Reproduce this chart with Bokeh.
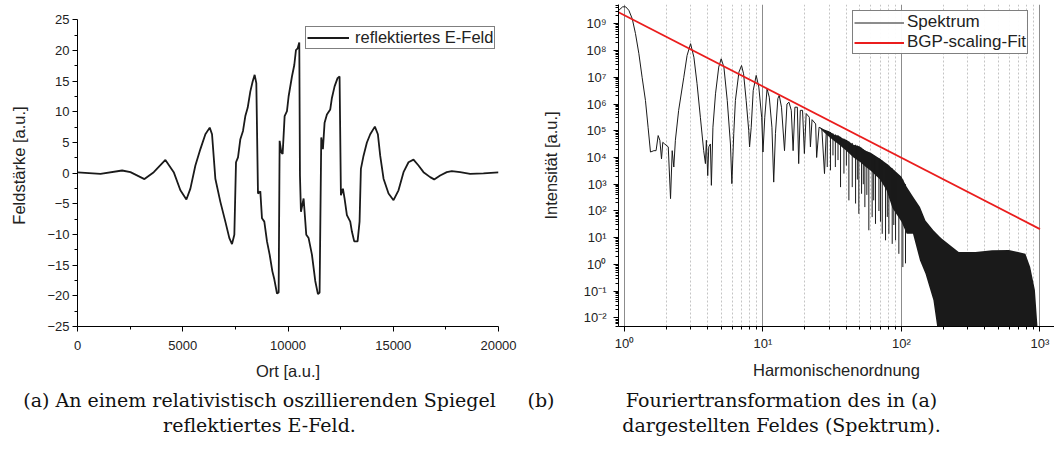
from bokeh.plotting import figure
from bokeh.models import (Legend, LegendItem, FixedTicker,
                          CustomJSTickFormatter, Range1d)
from bokeh.layouts import row, column
from bokeh.embed import file_html
from bokeh.resources import INLINE
from bokeh.core.properties import value

# ---------------- data: (a) reflected field ----------------
ort = [0, 1092, 2120, 2515, 3180, 3623, 4176, 4572, 4888, 5173, 5363, 5600, 5838,
       6075, 6281, 6391, 6549, 6787, 7024, 7214, 7340, 7451, 7530, 7625, 7736, 7862,
       7973, 8084, 8211, 8321, 8416, 8495, 8574, 8685, 8764, 8875, 9002, 9128, 9255,
       9350, 9477, 9556, 9603, 9682, 9745, 9840, 9951, 10030, 10188, 10299, 10378,
       10457, 10536, 10568, 10615, 10742, 10868, 10979, 11137, 11295, 11422, 11501,
       11580, 11659, 11738, 11849, 12007, 12086, 12213, 12355, 12450, 12514, 12609,
       12688, 12798, 12957, 13036, 13146, 13305, 13400, 13463, 13589, 13748, 13906,
       14127, 14270, 14380, 14539, 14776, 15013, 15250, 15488, 15725, 15962, 16200,
       16437, 16753, 16943, 17228, 17544, 17782, 18177, 18652, 19285, 20000]
feld = [0.11, -0.11, 0.43, 0.16, -0.97, 0.16, 2.15, 0.16, -2.80, -4.30, -2.53, 1.24,
        3.92, 6.34, 7.42, 6.34, -0.91, -4.68, -7.90, -10.59, -11.56, -10.05, 1.77,
        2.58, 5.54, 6.88, 9.30, 10.65, 13.33, 14.95, 16.02, 14.68, -3.33, -2.96,
        -7.37, -7.90, -11.13, -13.28, -15.97, -17.31, -19.62, -19.46, 5.27, 3.39,
        3.12, 9.30, 10.11, 12.53, 15.75, 17.63, 20.05, 20.32, 21.29, -0.38, -6.29,
        -4.14, -10.05, -10.59, -13.28, -17.58, -19.73, -19.46, 5.81, 3.92, 8.23,
        9.57, 10.38, 12.26, 14.14, 15.48, 15.75, -3.60, -2.53, -4.14, -6.83, -7.90,
        -9.52, -11.13, -11.13, -7.90, 0.70, 2.85, 5.00, 6.34, 7.58, 6.34, 2.85,
        -0.91, -3.33, -4.41, -2.80, 0.16, 1.77, 2.20, 1.24, 0.16, -0.65, -1.02,
        -0.38, 0.16, 0.32, 0.16, -0.11, -0.05, 0.11]

# ---------------- data: (b) spectrum ----------------
harm = [0.91, 0.97, 1.02, 1.074, 1.137, 1.20, 1.27, 1.34, 1.417, 1.48, 1.54, 1.63,
        1.69, 1.75, 1.80, 1.85, 1.89, 1.95, 2.07, 2.15, 2.21, 2.27, 2.33, 2.46,
        2.68, 2.83, 3.0, 3.17, 3.34, 3.53, 3.73, 3.84, 3.90, 3.99, 4.06, 4.17, 4.24,
        4.35, 4.54, 4.79, 4.99, 5.22, 5.52, 5.82, 5.96, 6.15, 6.32, 6.70, 7.0, 7.24,
        7.56, 7.89, 8.0, 8.22, 8.50, 8.93, 9.33, 9.78, 10.0, 10.3, 10.7, 11.1, 11.6,
        11.95, 12.3, 12.8, 13.1, 13.6, 14.3, 14.9, 15.4, 16.0, 16.5, 17.0, 17.7,
        18.1, 18.6, 19.3, 19.9, 20.5, 21.6, 22.0, 22.6, 24.0, 24.4, 25.4, 26.6,
        27.8, 28.6, 29.9]
inten = [3.2e9, 4.3e9, 4.3e9, 3.2e9, 1.55e9, 4.3e8, 7.6e7, 1.0e7, 1.35e6, 1.35e5,
         1.6e4, 1.8e4, 1.8e4, 6.6e4, 4.4e4, 8.9e3, 3.7e4, 3.2e4, 2.5e4, 2.9e2,
         1.8e4, 4.4e3, 4.4e4, 5.8e5, 1.0e7, 6.5e7, 1.8e8, 5.6e7, 5.8e6, 3.2e5,
         1.8e4, 5.9e3, 4.4e4, 2.1e3, 2.5e4, 3.2e4, 9.1e2, 1.35e5, 2.4e6, 2.4e7,
         4.9e7, 2.4e7, 1.35e6, 3.2e4, 1.05e3, 7.8e4, 1.35e6, 1.55e7, 2.75e7, 1.35e7,
         1.35e6, 1.0e5, 2.5e4, 1.35e5, 3.2e6, 1.17e7, 4.3e6, 3.2e5, 1.6e4, 3.2e5,
         3.7e6, 1.8e6, 1.35e5, 1.2e3, 7.8e4, 1.6e6, 2.1e6, 7.6e5, 1.8e4, 1.0e6,
         1.17e6, 5.8e5, 1.8e4, 7.6e5, 7.6e5, 5.9e3, 5.8e5, 5.8e5, 1.4e4, 4.4e5,
         3.2e5, 2.5e4, 2.6e5, 1.8e5, 1.0e4, 1.35e5, 1.2e5, 2.5e3, 7.8e4, 8.9e4]

# dense part of the spectrum: envelope of the solid black band
band_n = [26, 28, 30, 33, 35, 38, 40, 45, 50, 55, 60, 70, 78, 86, 100, 109, 121,
          136, 149, 170, 189, 196, 233, 259, 342, 451, 596, 785, 850, 919, 980]
band_hi = [1.3e5, 1.1e5, 9.5e4, 7.0e4, 6.6e4, 5.0e4, 4.6e4, 3.0e4, 2.6e4, 1.8e4,
           1.5e4, 9.0e3, 6.0e3, 3.9e3, 1.9e3, 8.0e2, 3.5e2, 1.4e2, 44, 19, 11, 9.1,
           4.5, 2.9, 2.9, 3.4, 3.5, 2.5, 0.8, 0.11, 1e-3]
band_lo = [1.2e5, 8.0e4, 6.0e4, 4.0e4, 3.2e4, 2.2e4, 1.8e4, 1.0e4, 7.0e3, 4.5e3,
           3.2e3, 1.5e3, 6.0e2, 1.3e2, 40, 14, 14, 1.4, 0.45, 0.046, 1e-3, 1e-3,
           1e-3, 1e-3, 1e-3, 1e-3, 1e-3, 1e-3, 1e-3, 1e-3, 1e-3]

# deep minima between the harmonics in the dense part
dip_n = [29.1, 30.7, 32.0, 33.3, 34.8, 36.3, 38.4, 40.0, 41.7, 44.1, 46.6, 48.0,
         49.2, 51.5, 53.0, 54.4, 56.2, 58.1, 61.4, 63.0, 64.9, 68.7, 70.5, 72.6,
         76.7, 79.0, 81.1, 85.7, 88.0, 90.6, 95.7, 102.3, 106.9]
dip_top = [9.5e4, 9.0e4, 8.0e4, 7.3e4, 6.6e4, 5.9e4, 5.1e4, 4.5e4, 4.0e4, 3.5e4,
           3.0e4, 2.8e4, 2.6e4, 2.3e4, 2.0e4, 1.9e4, 1.7e4, 1.55e4, 1.3e4, 1.2e4,
           1.1e4, 9.5e3, 8.6e3, 7.6e3, 6.2e3, 5.5e3, 5.0e3, 3.9e3, 3.3e3, 2.8e3,
           2.2e3, 1.5e3, 1.0e3]
dip_bot = [4.4e3, 3.3e3, 1.2e4, 4.4e3, 8.0e3, 7.8e2, 2.5e3, 5.0e3, 2.5e2, 7.8e2,
           1.9e2, 1.5e3, 78, 4.4e2, 1.0e3, 1.4e2, 4.0e2, 19, 59, 2.5e2, 33, 1.0e2,
           40, 14, 8, 60, 14, 5.9, 30, 8, 2.5, 0.8, 1.1]

# BGP scaling fit (n^-8/3), end points
fit_n = [0.905, 1000]
fit_I = [2.7e9, 21]

x_ticks_a = [0, 5000, 10000, 15000, 20000]
y_ticks_a = [-25, -20, -15, -10, -5, 0, 5, 10, 15, 20, 25]
x_ticks_b = [1, 10, 100, 1000]
y_ticks_b = [1e-2, 1e-1, 1e0, 1e1, 1e2, 1e3, 1e4, 1e5, 1e6, 1e7, 1e8, 1e9]

cap_center_x = [259, 259, 781, 781]
cap_center_y = [51, 26, 51, 26]
cap_center_t = ["(a) An einem relativistisch oszillierenden Spiegel",
                "reflektiertes E-Feld.",
                "Fouriertransformation des in (a)",
                "dargestellten Feldes (Spektrum)."]

FONT = "Liberation Sans"
SERIF = "DejaVu Serif"
INK = "#1a1a1a"


def style_axis(ax, label):
    ax.axis_label = label
    ax.axis_line_color = "black"
    ax.axis_line_width = 1
    ax.major_tick_in = 0
    ax.major_tick_out = 5
    ax.minor_tick_in = 0
    ax.minor_tick_out = 3
    ax.major_tick_line_color = "black"
    ax.minor_tick_line_color = "black"
    ax.major_label_text_font = FONT
    ax.major_label_text_font_size = "13px"
    ax.major_label_text_color = "#222222"
    ax.axis_label_text_font = FONT
    ax.axis_label_text_font_size = "16.5px"
    ax.axis_label_text_font_style = "normal"
    ax.axis_label_text_color = "#222222"


# ---------------- panel (a) ----------------
p1 = figure(width=520, height=390, output_backend="svg", toolbar_location=None,
            x_range=Range1d(0, 20000), y_range=Range1d(-25, 27.49),
            min_border_left=77, min_border_right=22, min_border_top=4,
            min_border_bottom=64)
p1.outline_line_color = None
p1.grid.visible = False
r1 = p1.line(ort, feld, line_color=INK, line_width=1.8)

p1.xaxis.ticker = FixedTicker(ticks=x_ticks_a,
                              minor_ticks=[2500, 7500, 12500, 17500])
p1.yaxis.ticker = FixedTicker(ticks=y_ticks_a,
                              minor_ticks=[t + 2.5 for t in y_ticks_a[:-1]])
p1.yaxis.bounds = (-25, 25)
style_axis(p1.xaxis[0], "Ort [a.u.]")
style_axis(p1.yaxis[0], "Feldstärke [a.u.]")
p1.xaxis.major_label_standoff = 9
p1.yaxis.major_label_standoff = 3
p1.xaxis.axis_label_standoff = 9
p1.yaxis.axis_label_standoff = 16

leg1 = Legend(items=[LegendItem(label="reflektiertes E-Feld", renderers=[r1])],
              location=(228, 277), padding=1, spacing=0, margin=0,
              glyph_width=42, glyph_height=13, label_height=13, label_standoff=6,
              border_line_color="black", border_line_width=1,
              label_text_font=FONT, label_text_font_size="16.5px",
              label_text_color="#222222")
p1.add_layout(leg1)

# ---------------- panel (b) ----------------
p2 = figure(width=534, height=390, output_backend="svg", toolbar_location=None,
            x_axis_type="log", y_axis_type="log",
            x_range=Range1d(0.905, 1273), y_range=Range1d(4.8e-3, 5.25e9),
            min_border_left=98, min_border_right=0, min_border_top=4,
            min_border_bottom=64)
p2.outline_line_color = None
p2.ygrid.visible = False

p2.xaxis.ticker = FixedTicker(ticks=x_ticks_b,
                              minor_ticks=[k * d for d in (1, 10, 100) for k in range(2, 10)])
p2.yaxis.ticker = FixedTicker(ticks=y_ticks_b,
                              minor_ticks=[k * 10.0 ** e for e in range(-3, 10) for k in range(2, 10)])
p2.xgrid.grid_line_color = "#8c8c8c"
p2.xgrid.grid_line_width = 1
p2.xgrid.minor_grid_line_color = "#c4c4c4"
p2.xgrid.minor_grid_line_dash = "2 2"

sup = CustomJSTickFormatter(code="""
const e = Math.round(Math.log10(tick));
const m = {'0':'\u2070','1':'\u00b9','2':'\u00b2','3':'\u00b3','4':'\u2074','5':'\u2075',
           '6':'\u2076','7':'\u2077','8':'\u2078','9':'\u2079','-':'\u207b'};
return '10' + String(e).split('').map(c => m[c]).join('');
""")
p2.xaxis.formatter = sup
p2.yaxis.formatter = sup
style_axis(p2.xaxis[0], "Harmonischenordnung")
style_axis(p2.yaxis[0], "Intensität [a.u.]")
p2.xaxis.major_label_standoff = 4
p2.yaxis.major_label_standoff = 7
p2.xaxis.axis_label_standoff = 7
p2.yaxis.axis_label_standoff = 21

p2.varea(x=band_n, y1=band_lo, y2=band_hi, fill_color=INK)
p2.segment(x0=dip_n, y0=dip_top, x1=dip_n, y1=dip_bot, line_color=INK,
           line_width=1)
r2 = p2.line(harm, inten, line_color=INK, line_width=1)
r3 = p2.line(fit_n, fit_I, line_color="#ea1d1d", line_width=1.8)

leg2 = Legend(items=[LegendItem(label="Spektrum", renderers=[r2]),
                     LegendItem(label="BGP-scaling-Fit", renderers=[r3])],
              location=(234, 272), padding=1, spacing=0, margin=0,
              glyph_width=50, glyph_height=13, label_height=13, label_standoff=3,
              border_line_color="black", border_line_width=1,
              label_text_font=FONT, label_text_font_size="17px",
              label_text_color="#222222")
p2.add_layout(leg2)

# ---------------- captions ----------------
p3 = figure(width=1054, height=60, output_backend="svg", toolbar_location=None,
            x_range=Range1d(0, 1054), y_range=Range1d(0, 60),
            x_axis_location=None, y_axis_location=None,
            min_border_left=0, min_border_right=0, min_border_top=0,
            min_border_bottom=0)
p3.outline_line_color = None
p3.grid.visible = False
p3.text(x=cap_center_x, y=cap_center_y, text=cap_center_t,
        text_font=value(SERIF), text_font_size="19px", text_align="center",
        text_baseline="middle", text_color="#111111")
p3.text(x=[527], y=[51], text=["(b)"], text_font=value(SERIF),
        text_font_size="19px", text_align="left", text_baseline="middle",
        text_color="#111111")

layout = column(row(p1, p2), p3)
open("out.html", "w").write(file_html(layout, INLINE))
